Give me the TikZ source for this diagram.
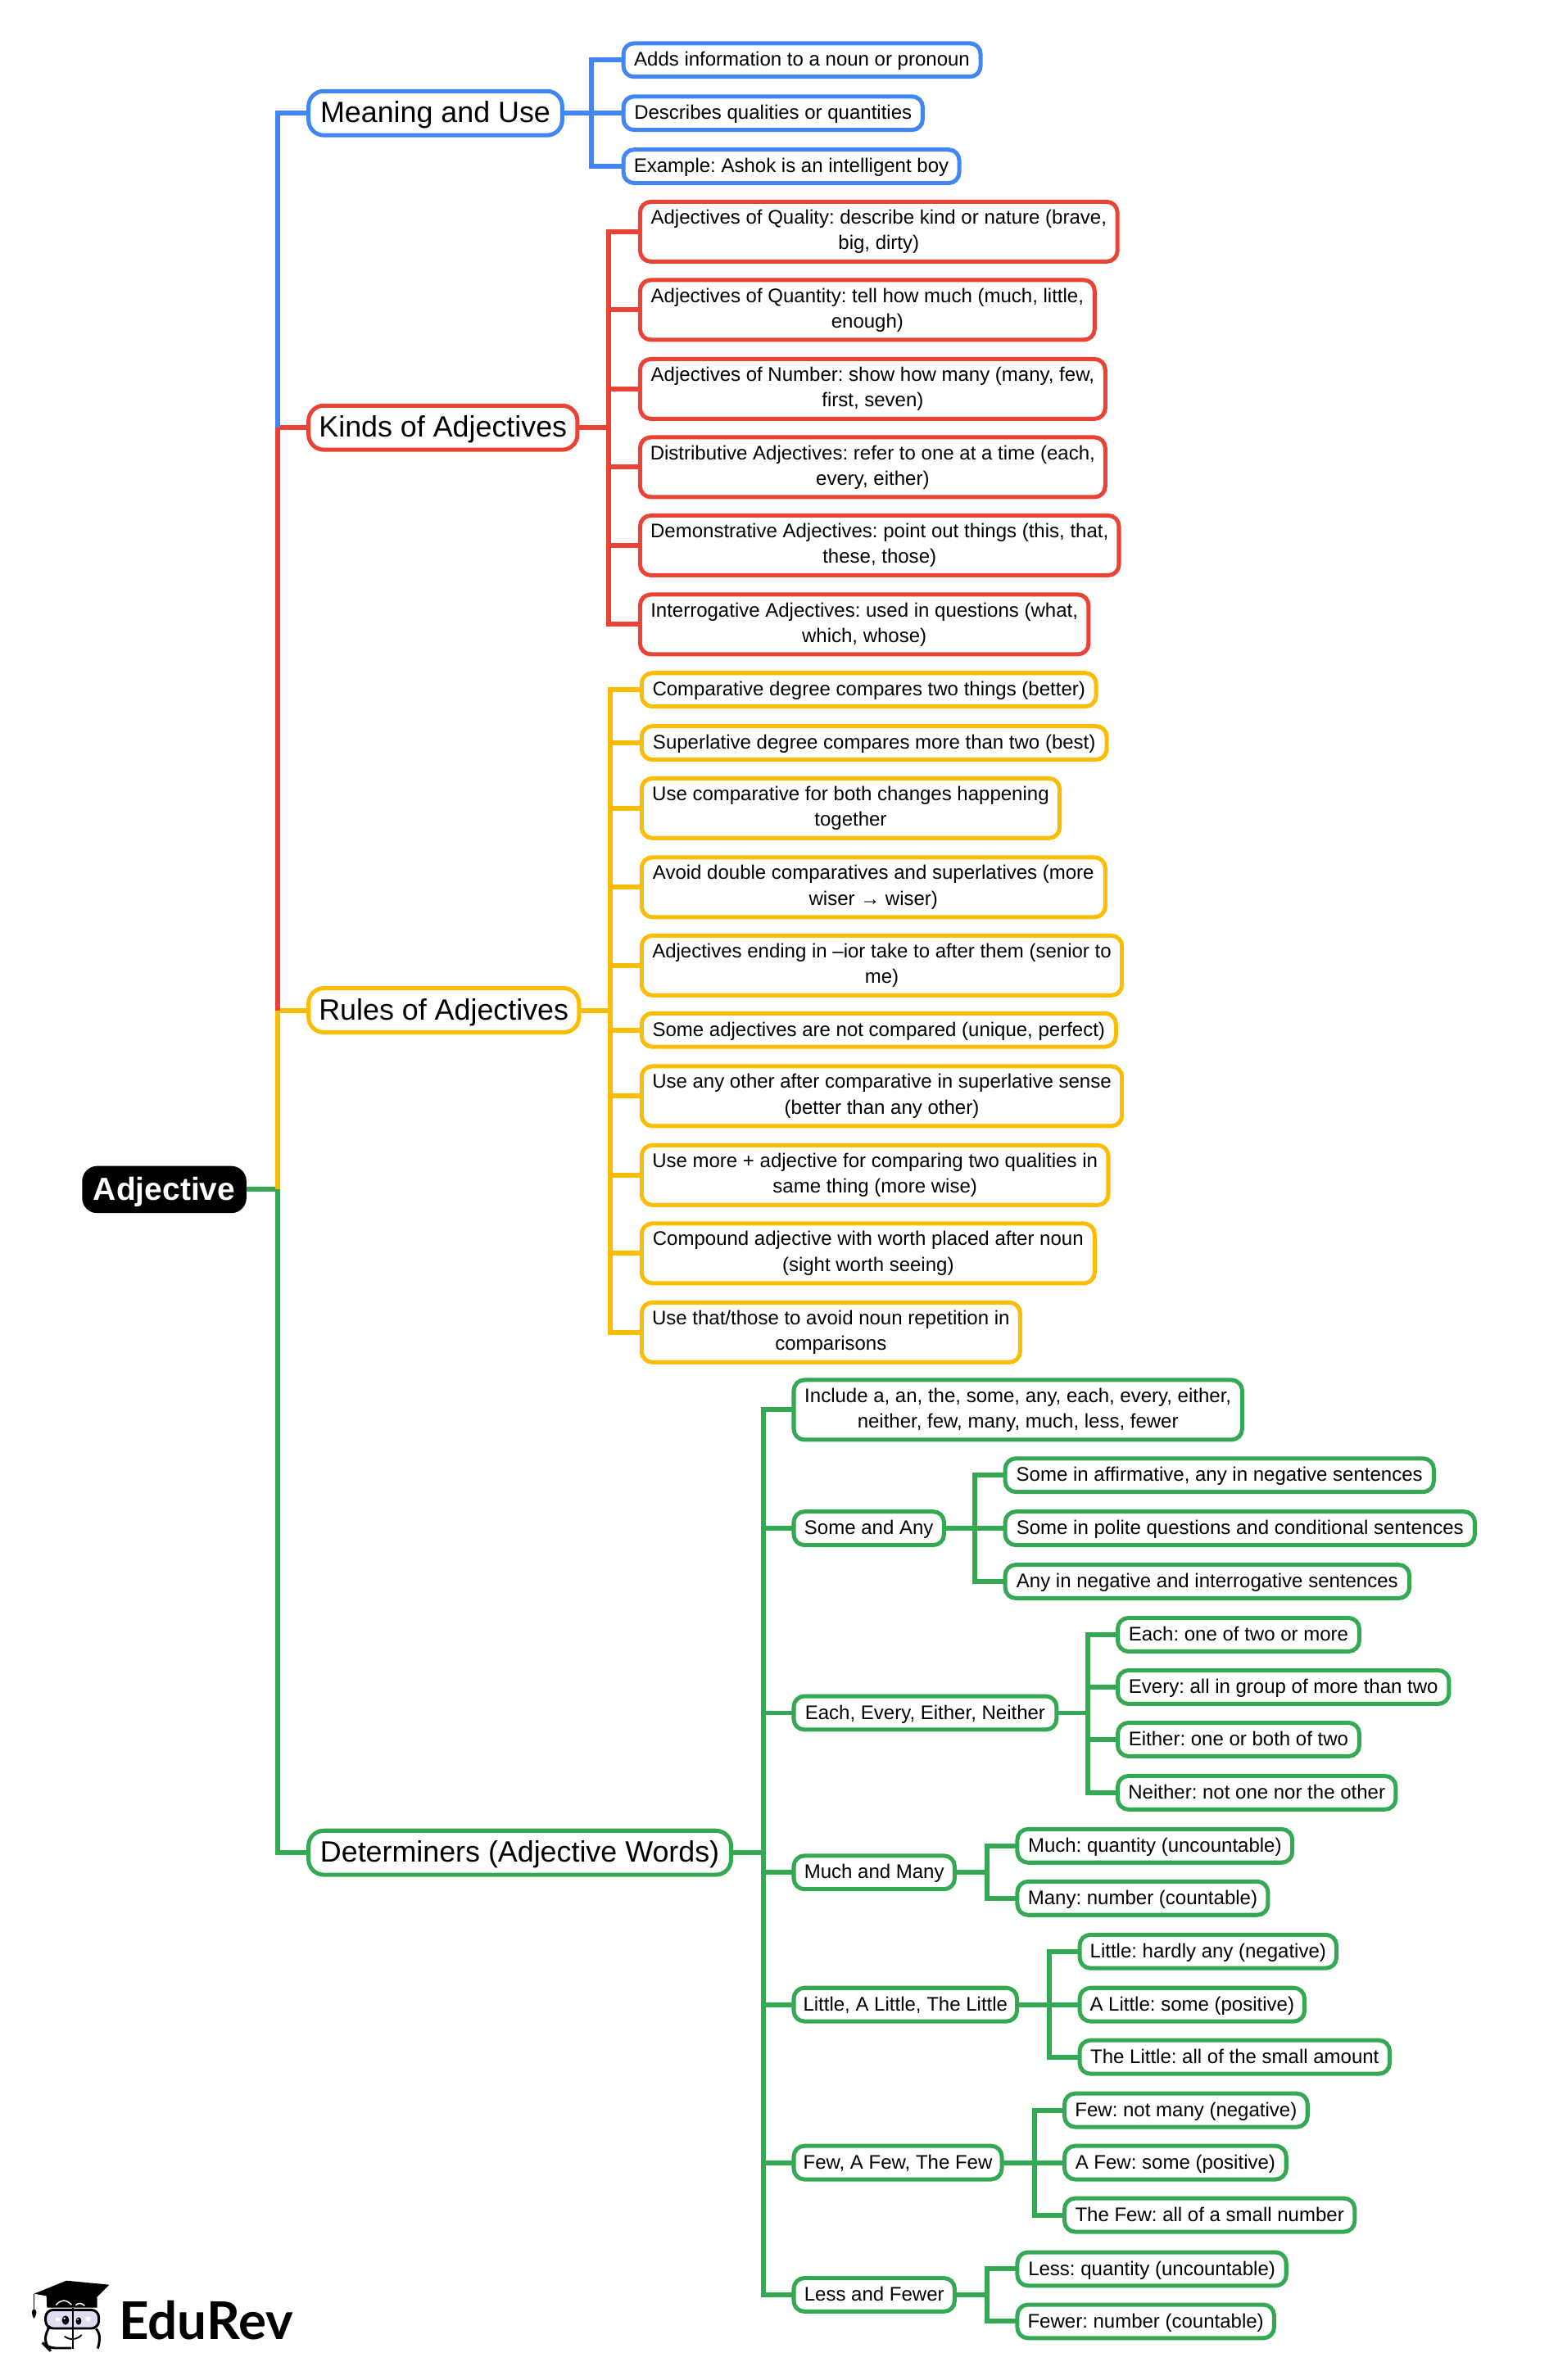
\documentclass[tikz,border=0pt]{standalone}
\usepackage{fontspec}
\setmainfont{Liberation Sans}
\newfontfamily\logofont{Lato}
\frenchspacing
\definecolor{cBlue}{HTML}{4285F4}
\definecolor{cRed}{HTML}{EA4335}
\definecolor{cYel}{HTML}{FBBC04}
\definecolor{cGrn}{HTML}{34A853}
\tikzset{
  basebox/.style={rounded corners=7pt,line width=2.7pt,fill=white,outer sep=0pt,inner sep=0pt,align=center},
  leafbase/.style={basebox,font=\fontsize{12.93}{16.8}\selectfont},
  leafbox/.style={leafbase,minimum height=22pt,text height=10.5pt,text depth=2.2pt},
  leaftwo/.style={leafbase,minimum height=39.3pt},
  mainbox/.style={basebox,font=\fontsize{19.3}{24}\selectfont,minimum height=29pt,text height=15.5pt,text depth=3pt,rounded corners=10pt},
  rootbox/.style={rounded corners=10pt,fill=black,text=white,font=\fontsize{21}{25}\selectfont\bfseries,outer sep=0pt,inner sep=0pt,minimum height=31pt,text height=16pt,text depth=2.5pt},
  wire/.style={line width=3.2pt,line join=miter},
}
% name, style+colour, left, right, centre y, text
\newcommand\bx[6]{%
  \pgfmathsetmacro\bxw{#4-#3-1.2}%
  \pgfmathsetmacro\bxc{(#3+#4-1.5)/2}%
  \node[#2,minimum width=\bxw pt] (#1) at (\bxc,#5) {#6};}
\begin{document}
\begin{tikzpicture}[x=1pt,y=-0.999pt]
\useasboundingbox (0,0) rectangle (1023.8,1566.6);
% root and main branches
\node[rootbox,minimum width=108pt] (root) at (108,783) {Adjective};
\bx{mean}{mainbox,draw=cBlue}{203}{371}{74.5}{Meaning and Use}
\bx{kind}{mainbox,draw=cRed}{203}{381}{281.5}{Kinds of Adjectives}
\bx{rule}{mainbox,draw=cYel}{203}{382}{665}{Rules of Adjectives}
\bx{dete}{mainbox,draw=cGrn}{203}{482}{1219.5}{Determiners (Adjective Words)}
\coordinate (spine) at (182.5,783);
% Meaning
\bx{m1}{leafbox,draw=cBlue}{410}{646}{39.5}{Adds information to a noun or pronoun}
\bx{m2}{leafbox,draw=cBlue}{410}{608}{74.5}{Describes qualities or quantities}
\bx{m3}{leafbox,draw=cBlue}{410}{632}{109.5}{Example: Ashok is an intelligent boy}
% Kinds
\bx{k1}{leaftwo,draw=cRed}{421}{736}{152.5}{Adjectives of Quality: describe kind or nature (brave,\\big, dirty)}
\bx{k2}{leaftwo,draw=cRed}{421}{721}{204}{Adjectives of Quantity: tell how much (much, little,\\enough)}
\bx{k3}{leaftwo,draw=cRed}{421}{728}{256}{Adjectives of Number: show how many (many, few,\\first, seven)}
\bx{k4}{leaftwo,draw=cRed}{421}{728}{307.5}{Distributive Adjectives: refer to one at a time (each,\\every, either)}
\bx{k5}{leaftwo,draw=cRed}{421}{737}{359}{Demonstrative Adjectives: point out things (this, that,\\these, those)}
\bx{k6}{leaftwo,draw=cRed}{421}{717}{411}{Interrogative Adjectives: used in questions (what,\\which, whose)}
% Rules
\bx{r1}{leafbox,draw=cYel}{422}{722}{454}{Comparative degree compares two things (better)}
\bx{r2}{leafbox,draw=cYel}{422}{729}{489}{Superlative degree compares more than two (best)}
\bx{r3}{leaftwo,draw=cYel}{422}{698}{532}{Use comparative for both changes happening\\together}
\bx{r4}{leaftwo,draw=cYel}{422}{728}{584}{Avoid double comparatives and superlatives (more\\wiser → wiser)}
\bx{r5}{leaftwo,draw=cYel}{422}{739}{635.5}{Adjectives ending in –ior take to after them (senior to\\me)}
\bx{r6}{leafbox,draw=cYel}{422}{735}{678}{Some adjectives are not compared (unique, perfect)}
\bx{r7}{leaftwo,draw=cYel}{422}{739}{721.5}{Use any other after comparative in superlative sense\\(better than any other)}
\bx{r8}{leaftwo,draw=cYel}{422}{730}{773.5}{Use more + adjective for comparing two qualities in\\same thing (more wise)}
\bx{r9}{leaftwo,draw=cYel}{422}{721}{825}{Compound adjective with worth placed after noun\\(sight worth seeing)}
\bx{r10}{leaftwo,draw=cYel}{422}{672}{877}{Use that/those to avoid noun repetition in\\comparisons}
% Determiners
\bx{d1}{leaftwo,draw=cGrn}{522}{818}{928}{Include a, an, the, some, any, each, every, either,\\neither, few, many, much, less, fewer}
\bx{d2}{leafbox,draw=cGrn}{522}{622}{1006}{Some and Any}
\bx{d3}{leafbox,draw=cGrn}{522}{696}{1127.5}{Each, Every, Either, Neither}
\bx{d4}{leafbox,draw=cGrn}{522}{629}{1232.5}{Much and Many}
\bx{d5}{leafbox,draw=cGrn}{522}{670}{1319.5}{Little, A Little, The Little}
\bx{d6}{leafbox,draw=cGrn}{522}{660}{1423.5}{Few, A Few, The Few}
\bx{d7}{leafbox,draw=cGrn}{522}{629}{1510.5}{Less and Fewer}
% Some and Any
\bx{sa1}{leafbox,draw=cGrn}{661}{944}{971}{Some in affirmative, any in negative sentences}
\bx{sa2}{leafbox,draw=cGrn}{661}{971}{1006}{Some in polite questions and conditional sentences}
\bx{sa3}{leafbox,draw=cGrn}{661}{928}{1041}{Any in negative and interrogative sentences}
% Each
\bx{ee1}{leafbox,draw=cGrn}{735}{895}{1076}{Each: one of two or more}
\bx{ee2}{leafbox,draw=cGrn}{735}{954}{1110.5}{Every: all in group of more than two}
\bx{ee3}{leafbox,draw=cGrn}{735}{895}{1145}{Either: one or both of two}
\bx{ee4}{leafbox,draw=cGrn}{735}{919}{1180}{Neither: not one nor the other}
% Much
\bx{mm1}{leafbox,draw=cGrn}{669}{851}{1215}{Much: quantity (uncountable)}
\bx{mm2}{leafbox,draw=cGrn}{669}{835}{1249.5}{Many: number (countable)}
% Little
\bx{li1}{leafbox,draw=cGrn}{710}{880}{1284.5}{Little: hardly any (negative)}
\bx{li2}{leafbox,draw=cGrn}{710}{859}{1319.5}{A Little: some (positive)}
\bx{li3}{leafbox,draw=cGrn}{710}{915}{1354}{The Little: all of the small amount}
% Few
\bx{fe1}{leafbox,draw=cGrn}{700}{861}{1389}{Few: not many (negative)}
\bx{fe2}{leafbox,draw=cGrn}{700}{847}{1423.5}{A Few: some (positive)}
\bx{fe3}{leafbox,draw=cGrn}{700}{892}{1458}{The Few: all of a small number}
% Less
\bx{le1}{leafbox,draw=cGrn}{669}{847}{1493.5}{Less: quantity (uncountable)}
\bx{le2}{leafbox,draw=cGrn}{669}{839}{1528}{Fewer: number (countable)}
% main spine
\draw[wire,cGrn] (root.east) -- (spine) |- (dete.west);
\draw[wire,cYel] (rule.west) -| (spine);
\draw[wire,cRed] (kind.west) -| (spine |- rule.west);
\draw[wire,cBlue] (mean.west) -| (spine |- kind.west);
% buses
\coordinate (busM) at (389,74.5);
\draw[wire,cBlue] (mean.east) -- (busM);
\foreach \n in {m1,m2,m3} \draw[wire,cBlue] (busM) |- (\n.west);
\coordinate (busK) at (400,281.5);
\draw[wire,cRed] (kind.east) -- (busK);
\foreach \n in {k1,k2,k3,k4,k5,k6} \draw[wire,cRed] (busK) |- (\n.west);
\coordinate (busR) at (401,665);
\draw[wire,cYel] (rule.east) -- (busR);
\foreach \n in {r1,r2,r3,r4,r5,r6,r7,r8,r9,r10} \draw[wire,cYel] (busR) |- (\n.west);
\coordinate (busD) at (502,1219.5);
\draw[wire,cGrn] (dete.east) -- (busD);
\foreach \n in {d1,d2,d3,d4,d5,d6,d7} \draw[wire,cGrn] (busD) |- (\n.west);
\coordinate (busS) at (641,1006);
\draw[wire,cGrn] (d2.east) -- (busS);
\foreach \n in {sa1,sa2,sa3} \draw[wire,cGrn] (busS) |- (\n.west);
\coordinate (busE) at (715,1127.5);
\draw[wire,cGrn] (d3.east) -- (busE);
\foreach \n in {ee1,ee2,ee3,ee4} \draw[wire,cGrn] (busE) |- (\n.west);
\coordinate (busH) at (649,1232.5);
\draw[wire,cGrn] (d4.east) -- (busH);
\foreach \n in {mm1,mm2} \draw[wire,cGrn] (busH) |- (\n.west);
\coordinate (busL) at (690,1319.5);
\draw[wire,cGrn] (d5.east) -- (busL);
\foreach \n in {li1,li2,li3} \draw[wire,cGrn] (busL) |- (\n.west);
\coordinate (busF) at (680,1423.5);
\draw[wire,cGrn] (d6.east) -- (busF);
\foreach \n in {fe1,fe2,fe3} \draw[wire,cGrn] (busF) |- (\n.west);
\coordinate (busT) at (649,1510.5);
\draw[wire,cGrn] (d7.east) -- (busT);
\foreach \n in {le1,le2} \draw[wire,cGrn] (busT) |- (\n.west);
% logo
\node[anchor=base west,inner sep=0pt,font=\fontsize{34.3}{34}\logofont\bfseries] (logotext) at (78,1540) {EduRev};
\begin{scope}[shift={(0,1455)},x=0.1795pt,y=-0.1795pt]
  \fill[black] (170,312) -- (172,356) -- (356,356) -- (356,320) -- cycle;
  \fill[black] (125,305) -- (243,257) -- (400,272) -- (330,342) -- cycle;
  \draw[white,line width=0.8pt] (205,346) .. controls (225,325) and (240,325) .. (262,345);
  \draw[white,line width=0.8pt] (277,347) .. controls (285,338) and (300,338) .. (310,349);
  \draw[black,line width=0.9pt] (125,305) -- (125,365);
  \fill[black] (125,396) .. controls (113,378) and (115,362) .. (125,362) .. controls (135,362) and (137,378) .. (125,396);
  \draw[black,line width=1.6pt,fill=cyan!8!blue!12!white,rounded corners=5pt] (167,364) rectangle (362,432);
  \draw[black,line width=1.6pt,rounded corners=5pt] (262,504) -- (175,504) -- (166,495) -- (166,445) -- (175,434);
  \draw[black,line width=1.6pt,rounded corners=3pt] (352,434) -- (364,445) -- (364,490) -- (358,505);
  \draw[black,line width=1.2pt] (268,358) -- (268,507);
  \fill[black] (240,402) ellipse [x radius=13,y radius=17];
  \fill[black] (288,405) ellipse [x radius=10,y radius=14];
  \fill[white] (236,395) circle [radius=4];
  \fill[white] (285,399) circle [radius=3];
  \fill[white] (205,392) rectangle (219,406);
  \fill[white] (315,391) rectangle (329,405);
  \draw[black,line width=1pt] (236,461) .. controls (255,476) and (282,474) .. (299,456);
\end{scope}
\end{tikzpicture}
\end{document}
